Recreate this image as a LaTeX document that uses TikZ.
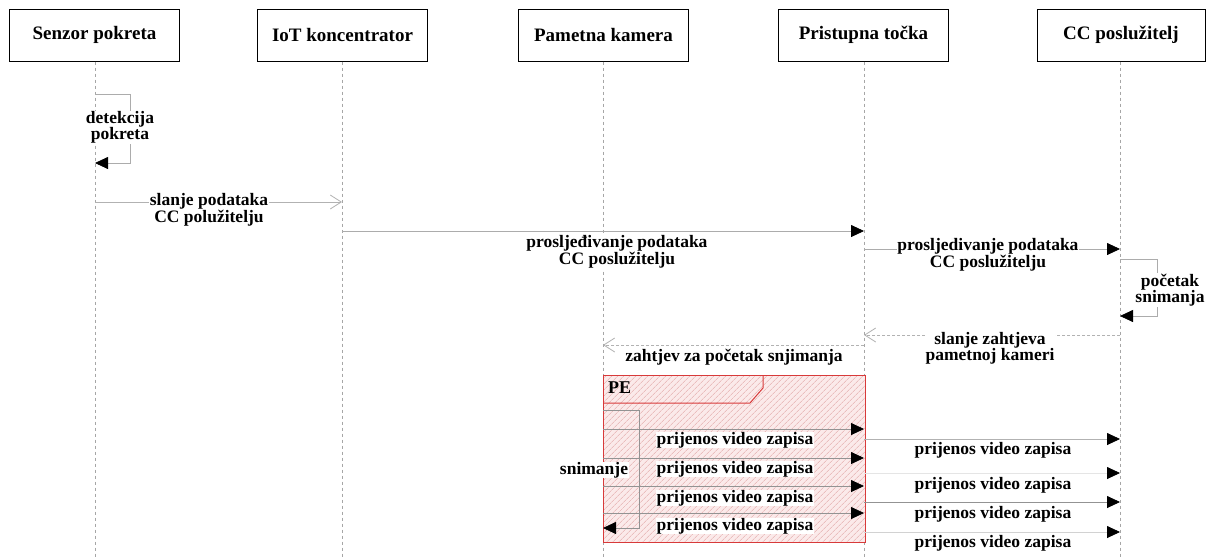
\documentclass[tikz,border=0pt]{standalone}
\usepackage{fontspec}
\setmainfont{Liberation Serif}
\usetikzlibrary{arrows.meta,patterns.meta}
\definecolor{frameRed}{HTML}{D83A3A}
\definecolor{hatchRed}{HTML}{E2A6A6}
\definecolor{fillRed}{HTML}{FBEAEA}
\begin{document}
\begin{tikzpicture}[x=1pt,y=-1pt,
  actor/.style={draw, line width=1pt, minimum width=170pt, minimum height=52pt, inner sep=0pt,
    font=\fontsize{19}{20}\selectfont\bfseries},
  lifeline/.style={gray!70, line width=0.7pt, dash pattern=on 3pt off 3pt},
  sync/.style={gray!65, line width=0.8pt, -{Triangle[length=13pt,width=12pt,color=black]}},
  async/.style={gray!60, line width=0.8pt, -{Straight Barb[length=11pt,width=14pt]}},
  asyncd/.style={async, dash pattern=on 3pt off 2pt},
  lbl/.style={fill=white, inner sep=0.5pt, align=center,
    font=\fontsize{17.5}{16}\selectfont\bfseries},
  loopline/.style={gray!70, line width=0.8pt}
]
\useasboundingbox (0,0) rectangle (1213,558);
\fill[white] (0,0) rectangle (1213,558);

% actors
\node[actor] (s1) at (94.5,35) {Senzor pokreta};
\node[actor] (s2) at (342.5,35) {IoT koncentrator};
\node[actor] (s3) at (603.5,35) {Pametna kamera};
\node[actor] (s4) at (863.5,35) {Pristupna točka};
\node[actor, minimum width=168pt] (s5) at (1121,35) {CC poslužitelj};

% lifelines
\coordinate (b1) at (95,558);
\coordinate (b2) at (342,558);
\coordinate (b3) at (603,558);
\coordinate (b4) at (864,558);
\coordinate (b5) at (1120,558);
\draw[lifeline] (s1.south -| b1) -- (b1);
\draw[lifeline] (s2.south -| b2) -- (b2);
\draw[lifeline] (s3.south -| b3) -- (b3);
\draw[lifeline] (s4.south -| b4) -- (b4);
\draw[lifeline] (s5.south -| b5) -- (b5);

% self loop detekcija pokreta
\coordinate (d1) at (95,94);
\coordinate (d2) at (130,94);
\coordinate (d3) at (130,163);
\coordinate (d4) at (95,163);
\draw[sync] (d1) -- (d2) -- (d3) -- (d4);
\node[lbl] (ldet) at (120,127.5) {detekcija\\pokreta};

% slanje podataka
\coordinate (m1a) at (95,202);
\coordinate (m1b) at (342,202);
\draw[async] (m1a) -- (m1b);
\node[lbl] (lm1) at (209,210) {slanje podataka\\CC polužitelju};

% prosljeđivanje 1
\coordinate (m2a) at (342,231);
\coordinate (m2b) at (864,231);
\draw[sync] (m2a) -- (m2b);
\node[lbl] (lm2) at (617,252) {prosljeđivanje podataka\\CC poslužitelju};

% prosljedivanje 2
\coordinate (m3a) at (864,249);
\coordinate (m3b) at (1120,249);
\draw[sync] (m3a) -- (m3b);
\node[lbl] (lm3) at (988,255) {prosljedivanje podataka\\CC poslužitelju};

% self loop pocetak snimanja
\coordinate (p1) at (1120,259);
\coordinate (p2) at (1157,259);
\coordinate (p3) at (1157,316);
\coordinate (p4) at (1120,316);
\draw[sync] (p1) -- (p2) -- (p3) -- (p4);
\node[lbl] (lpoc) at (1170,290) {početak\\snimanja};

% slanje zahtjeva
\coordinate (m4a) at (1120,335);
\coordinate (m4b) at (864,335);
\draw[asyncd] (m4a) -- (m4b);
\node[lbl] (lm4) at (990,348) {slanje zahtjeva\\pametnoj kameri};

% zahtjev za pocetak
\coordinate (m5a) at (864,345);
\coordinate (m5b) at (603,345);
\draw[asyncd] (m5a) -- (m5b);
\node[lbl] (lm5) at (734,357) {zahtjev za početak snjimanja};

% PE frame
\coordinate (fA) at (603,375);
\coordinate (fB) at (865,542);
\fill[fillRed] (fA) rectangle (fB);
\fill[pattern={Lines[angle=45,distance=4pt,line width=0.5pt]}, pattern color=hatchRed] (fA) rectangle (fB);
\draw[frameRed, line width=1pt] (fA) rectangle (fB);
\draw[frameRed, line width=1pt] (603,403) -- (750,403) -- (763,388) -- (763,375);
\node[font=\fontsize{18}{18}\selectfont\bfseries, anchor=west, inner sep=0pt] (pe) at (608,388) {PE};

% snimanje loop
\coordinate (n1) at (603,410);
\coordinate (n2) at (639,410);
\coordinate (n3) at (639,528);
\coordinate (n4) at (603,528);
\draw[sync, gray!85] (n1) -- (n2) -- (n3) -- (n4);

% inner transfers
\foreach \i/\y/\ly in {1/429/440, 2/458/469, 3/486/498, 4/513/526}{
  \coordinate (ia\i) at (603,\y);
  \coordinate (ib\i) at (864,\y);
  \draw[sync, gray!85] (ia\i) -- (ib\i);
  \node[lbl] (il\i) at (735,\ly) {prijenos video zapisa};
}
\node[lbl] (lsn) at (594,470) {snimanje};

% outer transfers
\foreach \i/\y/\ly/\c in {1/439/450/60, 2/473/485/20, 3/502/514/85, 4/532/543/35}{
  \coordinate (oa\i) at (864,\y);
  \coordinate (ob\i) at (1120,\y);
  \draw[sync, gray!\c] (oa\i) -- (ob\i);
  \node[lbl] (ol\i) at (993,\ly) {prijenos video zapisa};
}
\end{tikzpicture}
\end{document}
